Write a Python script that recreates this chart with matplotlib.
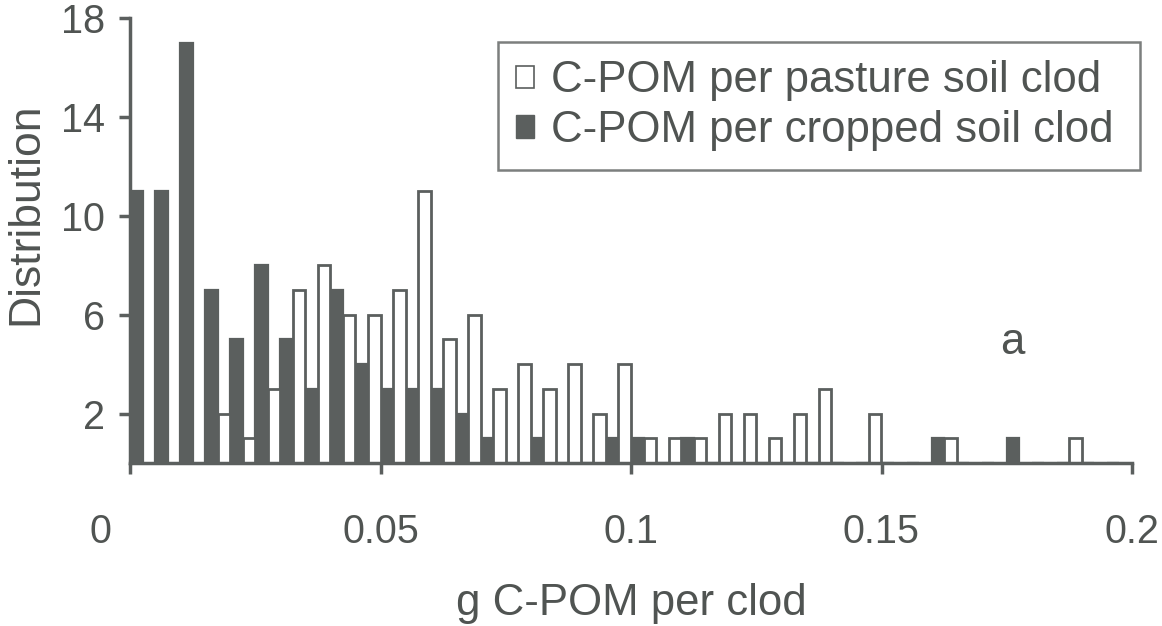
import matplotlib
matplotlib.use('Agg')
import matplotlib.pyplot as plt
import matplotlib.transforms as mtransforms
import numpy as np
from matplotlib.patches import Patch

# ---- data ----
bin_width = 0.005
bin_starts = [round(i * 0.005, 3) for i in range(40)]
cropped = [11, 11, 17, 7, 5, 8, 5, 3, 7, 4,
           3, 3, 3, 2, 1, 0, 1, 0, 0, 1,
           1, 0, 1, 0, 0, 0, 0, 0, 0, 0,
           0, 0, 1, 0, 0, 1, 0, 0, 0, 0]
pasture = [0, 0, 0, 2, 1, 3, 7, 8, 6, 6,
           7, 11, 5, 6, 3, 4, 3, 4, 2, 4,
           1, 1, 1, 2, 2, 1, 2, 3, 0, 2,
           0, 0, 1, 0, 0, 0, 0, 1, 0, 0]
x_ticks = [0, 0.05, 0.1, 0.15, 0.2]
x_tick_labels = ['0', '0.05', '0.1', '0.15', '0.2']
y_ticks = [2, 6, 10, 14, 18]
label_pasture = 'C-POM per pasture soil clod'
label_cropped = 'C-POM per cropped soil clod'

DARK = '#5b5f5e'
TEXT = '#505452'

plt.rcParams['font.family'] = ['Liberation Sans', 'DejaVu Sans']

fig = plt.figure(figsize=(11.62, 6.26), dpi=100)
ax = fig.add_axes([130 / 1162, 1 - 463 / 626, (1132 - 130) / 1162, (463 - 18) / 626])

starts = np.array(bin_starts)
half = bin_width / 2
ax.bar(starts, cropped, width=half, align='edge', color=DARK, edgecolor=DARK,
       linewidth=1.6, zorder=2)
ax.bar(starts + half, pasture, width=half, align='edge', color='white',
       edgecolor=DARK, linewidth=2.0, zorder=2)

ax.set_xlim(0, 0.2)
ax.set_ylim(0, 18)
ax.set_xticks(x_ticks)
ax.set_xticklabels(x_tick_labels)
ax.set_yticks(y_ticks)

for s in ['top', 'right']:
    ax.spines[s].set_visible(False)
for s in ['left', 'bottom']:
    ax.spines[s].set_color(DARK)
    ax.spines[s].set_linewidth(2.5)
ax.spines['bottom'].set_zorder(3)

ax.tick_params(axis='both', colors=DARK, length=8, width=2.5, direction='out',
               labelsize=28.5, labelcolor=TEXT)
ax.tick_params(axis='x', pad=28)
ax.tick_params(axis='y', pad=10)

# shift the "0" label to the left as in the reference
lbl0 = ax.get_xticklabels()[0]
lbl0.set_transform(lbl0.get_transform() +
                   mtransforms.ScaledTranslation(-0.30, 0, fig.dpi_scale_trans))

ax.set_xlabel('g C-POM per clod', fontsize=31.5, color=TEXT, labelpad=22)
ax.xaxis.set_label_coords(0.5, -0.27)
ax.set_ylabel('Distribution', fontsize=32, color=TEXT)
ax.yaxis.set_label_coords(-0.083, 0.56)

ax.text(0.1737, 4.4, 'a', fontsize=31.5, color=TEXT, va='baseline')

handles = [Patch(facecolor='white', edgecolor=DARK, linewidth=1.2),
           Patch(facecolor=DARK, edgecolor=DARK)]
leg = ax.legend(handles, [label_pasture, label_cropped],
                loc='upper left', bbox_to_anchor=(0.367, 0.654, 0.641, 0.292),
                mode='expand', fontsize=31.5, frameon=True, fancybox=False,
                handlelength=0.4, handleheight=0.4, handletextpad=0.4,
                borderpad=0.42, labelspacing=0.2, borderaxespad=0)
leg.get_frame().set_edgecolor(DARK)
leg.get_frame().set_linewidth(1.8)
for t in leg.get_texts():
    t.set_color(TEXT)

fig.savefig('out.png', dpi=100)
